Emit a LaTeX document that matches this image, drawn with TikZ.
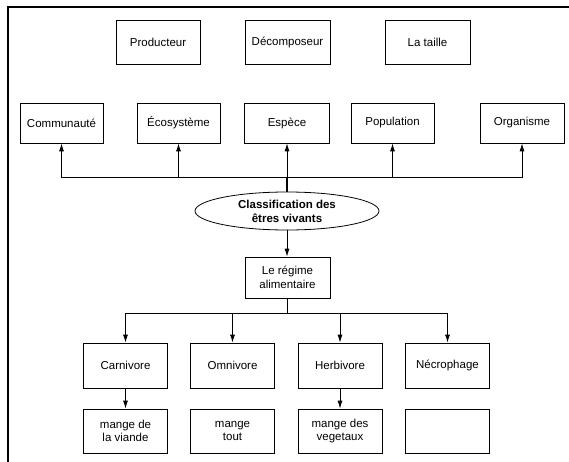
\documentclass[tikz,border=0pt]{standalone}
\usepackage{fontspec}
\setmainfont{Liberation Sans}
\usetikzlibrary{arrows.meta,shapes.geometric}
\begin{document}
\begin{tikzpicture}[x=1pt,y=-1pt,
  txt/.style={font=\fontsize{11.5}{13.5}\selectfont},
  box/.style={draw, line width=0.8pt, inner sep=0pt, align=center, txt, minimum width=84pt},
  toprow/.style={box, minimum height=44pt},
  midrow/.style={box, minimum height=40pt},
  lowrow/.style={box, minimum height=45pt},
  conn/.style={line width=0.8pt},
  hubline/.style={line width=1.5pt},
  arr/.style={conn, -{Latex[length=8pt,width=5pt]}},
  ]
\useasboundingbox (0,0) rectangle (569,462);
\draw[line width=2.4pt] (8,462) -- (8,7) -- (569,7);
% top row
\node[toprow] (prod) at (158,42) {Producteur};
\node[toprow, minimum width=85pt] (decomp) at (287.5,42) {Décomposeur};
\node[toprow, minimum width=85pt] (taille) at (427.5,42) {La taille};
% middle row
\node[midrow, minimum width=83pt] (comm) at (61.5,123) {Communauté};
\node[midrow, minimum width=83pt] (eco) at (178.5,123) {Écosystème};
\node[midrow, minimum width=85pt] (esp) at (287,123) {Espèce};
\node[midrow, minimum width=83pt] (pop) at (392.5,123) {Population};
\node[midrow] (org) at (522,123) {Organisme};
% ellipse
\node[ellipse, draw, line width=0.8pt, minimum width=184pt, minimum height=38pt, inner sep=0pt,
      align=center, font=\fontsize{11.5}{14}\selectfont\bfseries] (cls) at (287,211)
      {Classification des\\êtres vivants};
\coordinate (hub) at (287,177);
\draw[hubline] (cls.north) -- (hub);
\draw[arr] (hub) -- (esp.south);
\draw[arr] (hub) -| (comm.south);
\draw[arr] (hub) -| (eco.south);
\draw[arr] (hub) -| (pop.south);
\draw[arr] (hub) -| (org.south);
% regime
\node[box, minimum width=85pt, minimum height=41pt] (reg) at (287.5,277.5) {Le régime\\alimentaire};
\draw[arr] (cls.south) -- (reg.north -| cls.south);
\coordinate (hub2) at (287.5,313);
\draw[hubline] (reg.south) -- (hub2);
% diet row
\node[lowrow] (carn) at (125.5,365.5) {Carnivore};
\node[lowrow] (omni) at (232.5,365.5) {Omnivore};
\node[lowrow] (herb) at (340,365.5) {Herbivore};
\node[lowrow] (necro) at (447.5,365.5) {Nécrophage};
\draw[arr] (hub2) -| (carn.north);
\draw[arr] (hub2) -| (omni.north);
\draw[arr] (hub2) -| (herb.north);
\draw[arr] (hub2) -| (necro.north);
% bottom row
\node[box, minimum height=44pt] (viande) at (125.5,431) {mange de\\la viande};
\node[box, minimum height=44pt] (tout) at (232.5,431) {mange\\tout};
\node[box, minimum height=44pt] (veg) at (340,431) {mange des\\vegetaux};
\node[box, minimum height=44pt] (vide) at (447.5,431) {};
\draw[arr] (carn.south) -- (viande.north);
\draw[arr] (herb.south) -- (veg.north);
\end{tikzpicture}
\end{document}
